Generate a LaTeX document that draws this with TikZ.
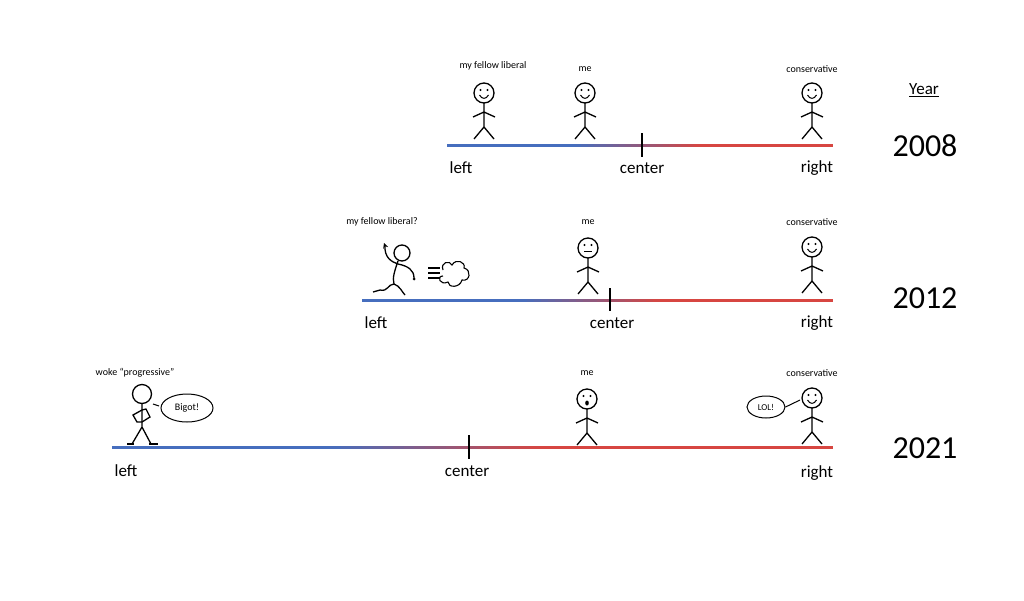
\documentclass[tikz,border=0pt]{standalone}
\usepackage{fontspec}
\setmainfont{Carlito}
\usetikzlibrary{shapes.geometric}
\definecolor{lb}{RGB}{70,110,190}
\definecolor{lr}{RGB}{215,70,65}
\begin{document}
\begin{tikzpicture}[x=1pt,y=-1pt,line width=1.3pt,
  lbl/.style={font=\fontsize{17}{19}\selectfont},
  small/.style={font=\fontsize{10}{11}\selectfont},
  yr/.style={font=\fontsize{32}{34}\selectfont},
  stick/.pic={
    \draw[line width=1.3pt] (0,0) circle (10);
    \fill (-3.5,-3) circle (1.2) (3.5,-3) circle (1.2);
    \draw[line width=1.3pt] (0,10) -- (0,34) (-11,24) -- (0,19) -- (11,24) (-10,46) -- (0,34) -- (10,46);
  },
  smile/.pic={\draw[line width=1pt] (-4.5,2) .. controls (-2,6.5) and (2,6.5) .. (4.5,2);},
  flat/.pic={\draw[line width=1pt] (-4,3.5) -- (4,3.5);},
  oh/.pic={\fill (0,4) ellipse (1.8 and 2.5);}]
\useasboundingbox (0,0) rectangle (1024,600);
\newcommand\axis[5]{% y, x0, blueend, redstart, x1
  \draw[lb,line width=3pt] (#2,#1) -- (#3,#1);
  \foreach \i in {0,...,19}{
    \pgfmathsetmacro\pa{#3+(#4-#3)*\i/20}
    \pgfmathsetmacro\pb{#3+(#4-#3)*(\i+1)/20+0.5}
    \pgfmathtruncatemacro\pc{\i*5+2}
    \draw[lr!\pc!lb,line width=3pt] (\pa,#1) -- (\pb,#1);}
  \draw[lr,line width=3pt] (#4,#1) -- (#5,#1);}
% 2008
\axis{145}{447}{575}{700}{833}
\draw (642,133) -- (642,157);
\node[lbl] (l1) at (461,168) {left};
\node[lbl] (c1) at (642,168) {center};
\node[lbl] (r1) at (817,168) {right};
\node[font=\fontsize{17}{19}\selectfont] (yh) at (924,90) {\underline{Year}};
\node[yr] (y1) at (925,146) {2008};
\pic at (484,93) {stick}; \pic at (484,93) {smile};
\pic at (585,93) {stick}; \pic at (585,93) {smile};
\pic at (812,93) {stick}; \pic at (812,93) {smile};
\node[small] (t1) at (493,66) {my fellow liberal};
\node[small] (t2) at (585,69) {me};
\node[small] (t3) at (812,69) {conservative};
% 2012
\axis{300}{362}{520}{660}{833}
\draw (610,288) -- (610,311);
\node[lbl] (l2) at (376,323) {left};
\node[lbl] (c2) at (612,323) {center};
\node[lbl] (r2) at (817,323) {right};
\node[yr] (y2) at (925,298) {2012};
\pic at (588,248) {stick}; \pic at (588,248) {flat};
\pic at (812,247) {stick}; \pic at (812,247) {smile};
\node[small] (t4) at (382,222) {my fellow liberal?};
\node[small] (t5) at (588,222) {me};
\node[small] (t6) at (812,222) {conservative};
% runner
\draw (402,253) circle (8);
\draw (398,261) .. controls (395,270) and (392,278) .. (394,284);
\draw (398,264) .. controls (392,262) and (384,258) .. (385,245);
\draw[-stealth] (385,246) -- (384,243);
\draw (398,264) .. controls (408,266) and (414,270) .. (414,278);
\fill (414,279) circle (1.5);
\draw (394,284) .. controls (388,284) and (388,292) .. (380,290) -- (373,292);
\draw (394,284) .. controls (400,286) and (402,292) .. (405,295);
\draw (428,268) -- (440,268) (428,273) -- (440,273) (428,278) -- (440,278);
\draw[line width=1.1pt] (443,270) .. controls (440,262) and (450,260) .. (452,265)
  .. controls (456,258) and (466,262) .. (464,268)
  .. controls (472,270) and (470,282) .. (462,280)
  .. controls (460,288) and (448,288) .. (448,282)
  .. controls (440,286) and (436,276) .. (443,276);
% 2021
\axis{447}{112}{330}{540}{833}
\draw (469,435) -- (469,459);
\node[lbl] (l3) at (126,471) {left};
\node[lbl] (c3) at (467,471) {center};
\node[lbl] (r3) at (817,473) {right};
\node[yr] (y3) at (925,448) {2021};
\pic at (587,399) {stick}; \pic at (587,399) {oh};
\pic at (812,398) {stick}; \pic at (812,398) {smile};
\node[small] (t7) at (135,373) {woke “progressive”};
\node[small] (t8) at (587,373) {me};
\node[small] (t9) at (812,373) {conservative};
% woke figure
\draw (142,394) circle (9.5);
\draw (142,404) -- (142,427) (142,427) -- (132,444) (142,427) -- (151,444);
\draw (127,444) -- (134,444) (149,444) -- (158,444);
\draw (142,410) -- (133,415) -- (137,422) -- (142,422) -- (150,417) -- (146,409) -- (142,410);
\draw[line width=1pt] (153,404) -- (159,406);
\node[draw,ellipse,line width=1pt,minimum width=52,minimum height=28,font=\fontsize{10}{11}\selectfont] (b1) at (187,408) {Bigot!};
\node[draw,ellipse,line width=1pt,minimum width=38,minimum height=22,font=\fontsize{9}{10}\selectfont] (b2) at (766,407) {LOL!};
\draw[line width=1pt] (b2.east) -- (800,400);
\end{tikzpicture}
\end{document}
